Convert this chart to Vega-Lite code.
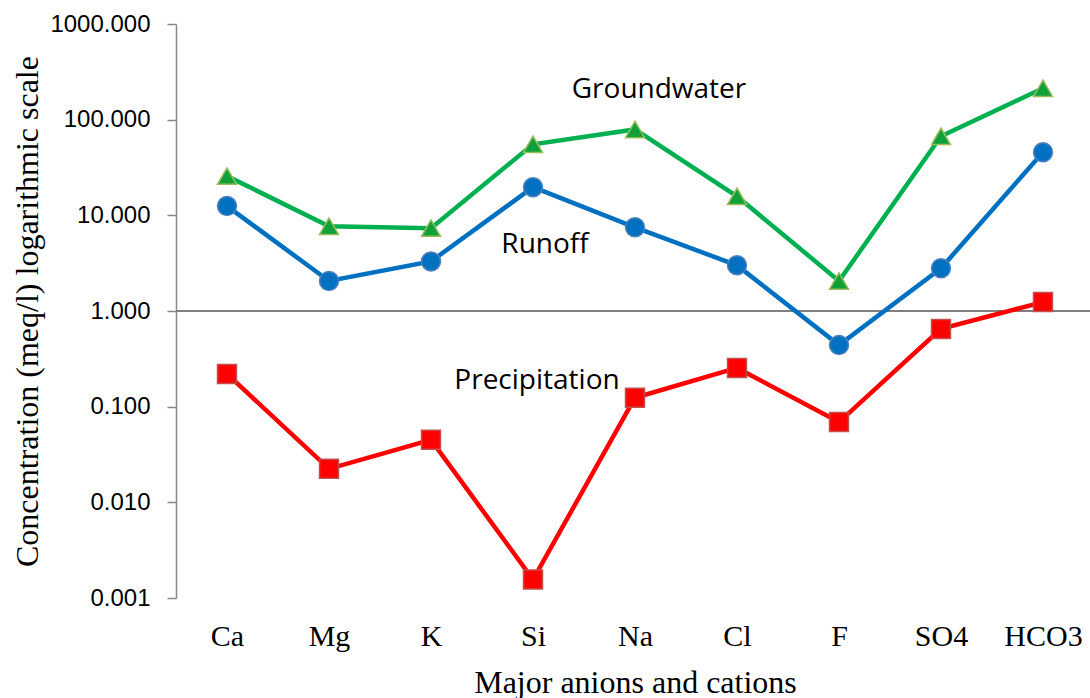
{
  "$schema": "https://vega.github.io/schema/vega-lite/v6.json",
  "autosize": "none",
  "padding": {"left": 176, "top": 24, "right": 0, "bottom": 100},
  "width": 918,
  "height": 574,
  "background": "white",
  "config": {"view": {"stroke": null}},
  "datasets": {
    "main": [
      {"ion": "Ca", "series": "Groundwater", "value": 25.7},
      {"ion": "Mg", "series": "Groundwater", "value": 7.7},
      {"ion": "K", "series": "Groundwater", "value": 7.35},
      {"ion": "Si", "series": "Groundwater", "value": 55.3},
      {"ion": "Na", "series": "Groundwater", "value": 79},
      {"ion": "Cl", "series": "Groundwater", "value": 15.8},
      {"ion": "F", "series": "Groundwater", "value": 2.06},
      {"ion": "SO4", "series": "Groundwater", "value": 67},
      {"ion": "HCO3", "series": "Groundwater", "value": 213},
      {"ion": "Ca", "series": "Runoff", "value": 12.5},
      {"ion": "Mg", "series": "Runoff", "value": 2.06},
      {"ion": "K", "series": "Runoff", "value": 3.3},
      {"ion": "Si", "series": "Runoff", "value": 19.7},
      {"ion": "Na", "series": "Runoff", "value": 7.5},
      {"ion": "Cl", "series": "Runoff", "value": 3.0},
      {"ion": "F", "series": "Runoff", "value": 0.44},
      {"ion": "SO4", "series": "Runoff", "value": 2.8},
      {"ion": "HCO3", "series": "Runoff", "value": 45.7},
      {"ion": "Ca", "series": "Precipitation", "value": 0.22},
      {"ion": "Mg", "series": "Precipitation", "value": 0.0224},
      {"ion": "K", "series": "Precipitation", "value": 0.045},
      {"ion": "Si", "series": "Precipitation", "value": 0.00156},
      {"ion": "Na", "series": "Precipitation", "value": 0.124},
      {"ion": "Cl", "series": "Precipitation", "value": 0.254},
      {"ion": "F", "series": "Precipitation", "value": 0.069},
      {"ion": "SO4", "series": "Precipitation", "value": 0.65},
      {"ion": "HCO3", "series": "Precipitation", "value": 1.24}
    ],
    "labels": [
      {"ion": "Na", "value": 203, "label": "Groundwater"},
      {"ion": "Si", "value": 4.9, "label": "Runoff"},
      {"ion": "Si", "value": 0.186, "label": "Precipitation"}
    ]
  },
  "encoding": {
    "x": {
      "field": "ion", "type": "ordinal",
      "sort": ["Ca", "Mg", "K", "Si", "Na", "Cl", "F", "SO4", "HCO3"],
      "scale": {"type": "point", "padding": 0.5},
      "axis": {
        "title": "Major anions and cations",
        "titleFont": "Liberation Serif", "titleFontSize": 32, "titleFontWeight": "normal", "titleColor": "black",
        "titlePadding": 16,
        "labelFont": "Liberation Serif", "labelFontSize": 30, "labelColor": "black", "labelAngle": 0,
        "labelPadding": 23,
        "domain": false, "ticks": false, "grid": false
      }
    },
    "y": {
      "field": "value", "type": "quantitative",
      "scale": {"type": "log", "domain": [0.001, 1000], "nice": false},
      "axis": {
        "title": "Concentration (meq/l) logarithmic scale",
        "titleFont": "Liberation Serif", "titleFontSize": 32, "titleFontWeight": "normal", "titleColor": "black",
        "titlePadding": 5,
        "values": [0.001, 0.01, 0.1, 1, 10, 100, 1000],
        "format": ".3f",
        "labelFont": "Liberation Sans", "labelFontSize": 24, "labelColor": "black", "labelPadding": 17,
        "domainColor": "#888888", "domainWidth": 1.5,
        "tickColor": "#888888", "tickSize": 9, "tickWidth": 1.5,
        "grid": false
      }
    }
  },
  "layer": [
    {
      "data": {"values": [{"v": 1}]},
      "mark": {"type": "rule", "color": "#808080", "strokeWidth": 2},
      "encoding": {"y": {"field": "v", "type": "quantitative"}, "x": {"value": 0}, "x2": {"value": 918}}
    },
    {
      "data": {"name": "main"},
      "mark": {"type": "line", "strokeWidth": 4.5},
      "encoding": {
        "detail": {"field": "series"},
        "color": {
          "field": "series", "type": "nominal",
          "scale": {"domain": ["Groundwater", "Runoff", "Precipitation"], "range": ["#00B050", "#0070C0", "#FF0000"]},
          "legend": null
        }
      }
    },
    {
      "data": {"name": "main"},
      "mark": {"type": "point", "filled": true, "opacity": 1, "strokeWidth": 1.5, "size": 360},
      "encoding": {
        "shape": {
          "field": "series", "type": "nominal",
          "scale": {"domain": ["Groundwater", "Runoff", "Precipitation"], "range": ["triangle-up", "circle", "square"]},
          "legend": null
        },
        "fill": {
          "field": "series", "type": "nominal",
          "scale": {"domain": ["Groundwater", "Runoff", "Precipitation"], "range": ["#0FA03A", "#0070C0", "#FF0000"]},
          "legend": null
        },
        "stroke": {
          "field": "series", "type": "nominal",
          "scale": {"domain": ["Groundwater", "Runoff", "Precipitation"], "range": ["#9BBB59", "#4F81BD", "#C0504D"]},
          "legend": null
        }
      }
    },
    {
      "data": {"name": "labels"},
      "transform": [{"filter": "datum.label === 'Groundwater'"}],
      "mark": {"type": "text", "font": "Open Sans", "fontSize": 28, "color": "black", "align": "center", "baseline": "middle", "dx": 24},
      "encoding": {"text": {"field": "label"}}
    },
    {
      "data": {"name": "labels"},
      "transform": [{"filter": "datum.label === 'Runoff'"}],
      "mark": {"type": "text", "font": "Open Sans", "fontSize": 28, "color": "black", "align": "center", "baseline": "middle", "dx": 12},
      "encoding": {"text": {"field": "label"}}
    },
    {
      "data": {"name": "labels"},
      "transform": [{"filter": "datum.label === 'Precipitation'"}],
      "mark": {"type": "text", "font": "Open Sans", "fontSize": 28, "color": "black", "align": "center", "baseline": "middle", "dx": 4},
      "encoding": {"text": {"field": "label"}}
    }
  ]
}
